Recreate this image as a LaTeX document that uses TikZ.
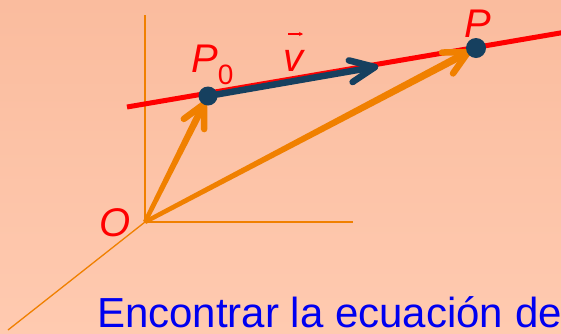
\documentclass[tikz,border=0pt]{standalone}
\usepackage{fontspec}
\setmainfont{Liberation Sans}
\usetikzlibrary{calc,arrows.meta}
\definecolor{bgtop}{RGB}{250,188,158}
\definecolor{bgbot}{RGB}{255,202,176}
\definecolor{axisor}{RGB}{240,128,0}
\definecolor{navy}{RGB}{22,64,95}
\definecolor{txtblue}{RGB}{0,0,240}
\tikzset{
  axis/.style={draw=axisor, line width=2.5pt},
  thinaxis/.style={draw=axisor, line width=1.3pt},
  obarb/.style={draw=axisor, line width=6.5pt, line cap=round, line join=round},
  nbarb/.style={draw=navy, line width=6.5pt, line cap=round, line join=round},
  dot/.style={circle, fill=navy, inner sep=0pt},
  lbl/.style={text=red, font=\fontsize{40}{48}\selectfont\itshape, inner sep=0pt, anchor=base west},
}
\begin{document}
\begin{tikzpicture}[x=1pt,y=-1pt]
\useasboundingbox (0,0) rectangle (561,333);
\shade[top color=bgtop, bottom color=bgbot] (0,0) rectangle (561,333);
\begin{scope}
\clip (0,0) rectangle (561,333);
% axes
\coordinate (O) at (145,222);
\coordinate (zend) at (145,15);
\coordinate (yend) at (353,222);
\coordinate (xend) at (8,330);
\draw[axis] (O) -- (zend);
\draw[axis] (O) -- (yend);
\draw[thinaxis] (O) -- (xend);
% line
\coordinate (L1) at (127,107);
\coordinate (L2) at (566,32);
\draw[red, line width=5pt] (L1) -- (L2);
% points (centres)
\coordinate (P0) at (208,96);
\coordinate (P) at (476,48);
\coordinate (vtip) at (375,67);
\coordinate (t0) at ($(P0)!9pt!(O)$);
\coordinate (t1) at ($(P)!9pt!(O)$);
% tapered position vectors
\fill[axisor] ($(O)!2.2pt!90:(t0)$) -- ($(t0)!3.6pt!-90:(O)$) -- ($(t0)!3.6pt!90:(O)$) -- ($(O)!2.2pt!-90:(t0)$) -- cycle;
\draw[obarb] ($(t0)!25pt!27:(O)$) -- (t0) -- ($(t0)!25pt!-27:(O)$);
\fill[axisor] ($(O)!2.2pt!90:(t1)$) -- ($(t1)!3.8pt!-90:(O)$) -- ($(t1)!3.8pt!90:(O)$) -- ($(O)!2.2pt!-90:(t1)$) -- cycle;
\draw[obarb] ($(t1)!26pt!27:(O)$) -- (t1) -- ($(t1)!26pt!-27:(O)$);
% direction vector
\draw[nbarb] (P0) -- (vtip);
\draw[nbarb] ($(vtip)!27pt!24:(P0)$) -- (vtip) -- ($(vtip)!27pt!-24:(P0)$);
% dots
\node[dot, minimum width=15pt, minimum height=19pt] (dP0) at (P0) {};
\node[dot, minimum size=20pt] (dP) at (P) {};
% labels
\node[lbl] (lP0) at (191,72) {P\raisebox{-12pt}{\fontsize{28}{28}\selectfont\upshape 0}};
\node[lbl] (lP) at (464,37) {P};
\node[lbl] (lv) at (283,71) {v};
\coordinate (va) at (288,34);
\coordinate (vb) at (303,34);
\draw[red, line width=1.2pt, -{Stealth[length=4pt,width=4pt]}] (va) -- (vb);
\node[lbl] (lO) at (99,236) {O};
\node[text=txtblue, font=\fontsize{42}{50}\selectfont, inner sep=0pt, anchor=base west] (title) at (97,327) {Encontrar la ecuación de};
\end{scope}
\end{tikzpicture}
\end{document}
